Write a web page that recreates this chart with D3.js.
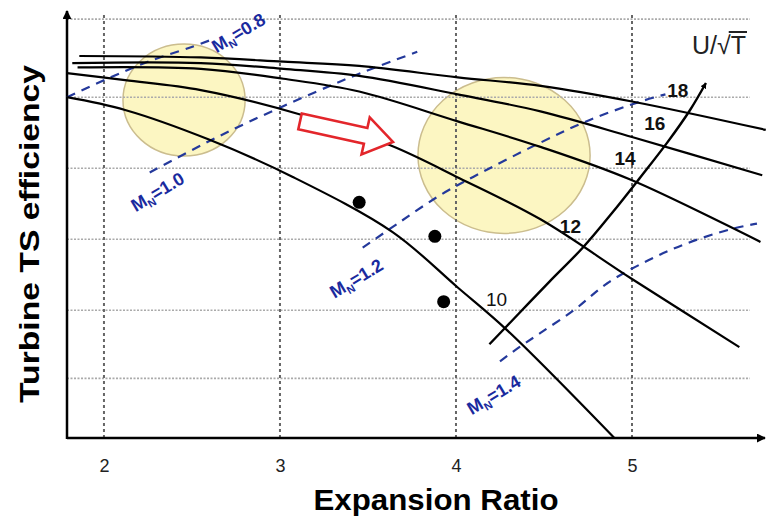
<!DOCTYPE html>
<html>
<head>
<meta charset="utf-8">
<script src="https://cdn.jsdelivr.net/npm/d3@7"></script>
<style>
  body { margin: 0; background: #fff; }
  text { font-family: "Liberation Sans", Arial, sans-serif; }
</style>
</head>
<body>
<svg id="chart" width="766" height="518"></svg>
<script>
// x ticks and horizontal grid levels (the y axis carries no labels)
const xTicks = [2, 3, 4, 5];
const gridY = [0.492, 0.54, 0.59, 0.64, 0.69, 0.745];

// U/sqrt(T) lines
const speedNames = ["10", "12", "14", "16", "18"];
const speed10 = [[1.79, 0.690], [2.12, 0.681], [2.60, 0.660], [3.07, 0.634], [3.64, 0.595], [4.01, 0.556], [4.29, 0.526], [4.90, 0.450]];
const speed12 = [[1.79, 0.707], [2.12, 0.702], [2.55, 0.695], [3.11, 0.678], [3.63, 0.656], [4.02, 0.633], [4.48, 0.604], [5.00, 0.562], [5.61, 0.514]];
const speed14 = [[1.85, 0.711], [2.55, 0.710], [3.02, 0.703], [3.45, 0.694], [4.01, 0.673], [4.48, 0.655], [4.99, 0.632], [5.73, 0.588]];
const speed16 = [[1.82, 0.714], [2.55, 0.714], [3.02, 0.710], [3.45, 0.705], [4.01, 0.692], [4.48, 0.680], [5.00, 0.662], [5.74, 0.635]];
const speed18 = [[1.86, 0.719], [2.55, 0.718], [3.02, 0.715], [3.45, 0.712], [4.01, 0.704], [4.48, 0.698], [5.00, 0.687], [5.76, 0.667]];
const speedLabelAt = [[4.23, 0.548], [4.65, 0.599], [4.96, 0.647], [5.13, 0.672], [5.26, 0.695]];

// nozzle Mach number lines
const machNames = ["0.8", "1.0", "1.2", "1.4"];
const mach08 = [[1.79, 0.690], [2.02, 0.703], [2.25, 0.715], [2.49, 0.725], [2.60, 0.730]];
const mach10 = [[2.26, 0.637], [2.55, 0.656], [2.83, 0.673], [3.19, 0.693], [3.46, 0.707], [3.78, 0.722]];
const mach12 = [[3.47, 0.584], [3.68, 0.602], [3.91, 0.621], [4.10, 0.634], [4.48, 0.658], [4.76, 0.674], [5.05, 0.687], [5.19, 0.692]];
const mach14 = [[4.25, 0.504], [4.36, 0.514], [4.48, 0.524], [4.67, 0.540], [4.86, 0.559], [5.09, 0.575], [5.31, 0.587], [5.56, 0.597], [5.71, 0.601]];
const machLabelAt = [[2.64, 0.721], [2.18, 0.609], [3.31, 0.548], [4.09, 0.466]];

// highlighted zones (cx, cy, rx, ry), points, arrows
const zones = [[2.455, 0.688, 0.347, 0.0394], [4.273, 0.649, 0.489, 0.0549]];
const points = [[3.45, 0.616], [3.88, 0.592], [3.93, 0.546]];
const speedArrow = [[4.19, 0.516], [4.36, 0.538], [4.53, 0.560], [4.72, 0.584], [4.89, 0.609], [5.05, 0.634], [5.20, 0.658], [5.33, 0.681], [5.42, 0.700]];
const shiftArrow = [[3.114, 0.673], [3.642, 0.6585]];

const svg = d3.select("#chart");

const x = d3.scaleLinear().domain([1.79, 5.75]).range([67, 764]);
const y = d3.scaleLinear().domain([0.45, 0.75]).range([438, 12]);

const line = d3.line()
    .x(d => x(d[0]))
    .y(d => y(d[1]))
    .curve(d3.curveCatmullRom.alpha(0.5));

const defs = svg.append("defs");
defs.append("marker")
    .attr("id", "head")
    .attr("viewBox", "0 0 10 10")
    .attr("refX", 9).attr("refY", 5)
    .attr("markerWidth", 6).attr("markerHeight", 6)
    .attr("markerUnits", "userSpaceOnUse")
    .attr("orient", "auto")
  .append("path")
    .attr("d", "M0,0L10,5L0,10z")
    .attr("fill", "#000");
defs.append("marker")
    .attr("id", "axhead")
    .attr("viewBox", "0 0 10 10")
    .attr("refX", 9).attr("refY", 5)
    .attr("markerWidth", 9).attr("markerHeight", 9)
    .attr("markerUnits", "userSpaceOnUse")
    .attr("orient", "auto")
  .append("path")
    .attr("d", "M0,0L10,5L0,10z")
    .attr("fill", "#000");

// yellow zones under everything
svg.append("g")
  .selectAll("ellipse")
  .data(zones)
  .enter().append("ellipse")
    .attr("cx", d => x(d[0]))
    .attr("cy", d => y(d[1]))
    .attr("rx", d => x(d[0] + d[2]) - x(d[0]))
    .attr("ry", d => y(d[1]) - y(d[1] + d[3]))
    .attr("fill", "#fcf6c2")
    .attr("stroke", "#cbbd8e")
    .attr("stroke-width", 1.5);

// grid
svg.append("g")
  .selectAll("line")
  .data(gridY)
  .enter().append("line")
    .attr("x1", x(1.79)).attr("x2", 750)
    .attr("y1", d => y(d)).attr("y2", d => y(d))
    .attr("stroke", "#aaa")
    .attr("stroke-width", 1.6)
    .attr("stroke-dasharray", "2,1.5");

svg.append("g")
  .selectAll("line")
  .data(xTicks)
  .enter().append("line")
    .attr("x1", d => x(d)).attr("x2", d => x(d))
    .attr("y1", 15).attr("y2", y(0.45))
    .attr("stroke", "#666")
    .attr("stroke-width", 2)
    .attr("stroke-dasharray", "3,3");

// axes
const xAxis = svg.append("g")
    .attr("transform", `translate(0,${y(0.45)})`)
    .call(d3.axisBottom(x).tickValues(xTicks).tickSize(0).tickPadding(21).tickFormat(d3.format("d")));
xAxis.select(".domain").remove();
xAxis.selectAll("text")
    .attr("font-size", 18)
    .attr("font-family", "Liberation Sans, Arial, sans-serif")
    .attr("fill", "#222");

svg.append("line")
    .attr("x1", x(1.79)).attr("y1", y(0.45))
    .attr("x2", 765).attr("y2", y(0.45))
    .attr("stroke", "#000").attr("stroke-width", 2.5)
    .attr("marker-end", "url(#axhead)");
svg.append("line")
    .attr("x1", x(1.79)).attr("y1", y(0.45) + 1)
    .attr("x2", x(1.79)).attr("y2", 11)
    .attr("stroke", "#000").attr("stroke-width", 2.5)
    .attr("marker-end", "url(#axhead)");

// Mach lines
const machLines = [mach08, mach10, mach12, mach14];
svg.append("g")
  .selectAll("path")
  .data(machLines)
  .enter().append("path")
    .attr("d", line)
    .attr("fill", "none")
    .attr("stroke", "#24399b")
    .attr("stroke-width", 2.2)
    .attr("stroke-dasharray", "9,7");

const machText = svg.append("g")
  .selectAll("text")
  .data(machNames)
  .enter().append("text")
    .attr("transform", (d, i) => `translate(${x(machLabelAt[i][0])},${y(machLabelAt[i][1])}) rotate(-31)`)
    .attr("fill", "#1a2a9e")
    .attr("font-size", 18)
    .attr("font-weight", "bold");
machText.append("tspan").text("M");
machText.append("tspan").attr("font-size", 11).attr("dy", 4).text("N");
machText.append("tspan").attr("dy", -4).text(d => "=" + d);

// speed lines
const speedLines = [speed10, speed12, speed14, speed16, speed18];
svg.append("g")
  .selectAll("path")
  .data(speedLines)
  .enter().append("path")
    .attr("d", line)
    .attr("fill", "none")
    .attr("stroke", "#000")
    .attr("stroke-width", 2.2);

svg.append("g")
  .selectAll("text")
  .data(speedNames)
  .enter().append("text")
    .attr("x", (d, i) => x(speedLabelAt[i][0]))
    .attr("y", (d, i) => y(speedLabelAt[i][1]))
    .attr("dy", "0.36em")
    .attr("text-anchor", "middle")
    .attr("font-size", 19)
    .attr("font-weight", (d, i) => i === 0 ? "normal" : "bold")
    .attr("fill", "#111")
    .text(d => d);

// increasing speed arrow
svg.append("path")
    .datum(speedArrow)
    .attr("d", line)
    .attr("fill", "none")
    .attr("stroke", "#000")
    .attr("stroke-width", 2.4)
    .attr("marker-end", "url(#head)");

// U/sqrt(T) label
const ut = svg.append("text")
    .attr("x", 692).attr("y", 54)
    .attr("font-size", 25)
    .attr("fill", "#222")
    .text("U/\u221AT");
const utNode = ut.node();
const tStart = utNode.getSubStringLength(0, 3);
const tWidth = utNode.getSubStringLength(3, 1);
svg.append("line")
    .attr("x1", 692 + tStart - 2).attr("x2", 692 + tStart + tWidth + 1)
    .attr("y1", 32).attr("y2", 32)
    .attr("stroke", "#222").attr("stroke-width", 2);

// data points
svg.append("g")
  .selectAll("circle")
  .data(points)
  .enter().append("circle")
    .attr("cx", d => x(d[0]))
    .attr("cy", d => y(d[1]))
    .attr("r", 6.5)
    .attr("fill", "#000");

// hollow red arrow
const ax0 = x(shiftArrow[0][0]), ay0 = y(shiftArrow[0][1]);
const ax1 = x(shiftArrow[1][0]), ay1 = y(shiftArrow[1][1]);
const len = Math.hypot(ax1 - ax0, ay1 - ay0);
const ang = Math.atan2(ay1 - ay0, ax1 - ax0) * 180 / Math.PI;
const hl = 28, sw = 8, hw = 19;
svg.append("polygon")
    .attr("points", [[0, -sw], [len - hl, -sw], [len - hl, -hw], [len, 0], [len - hl, hw], [len - hl, sw], [0, sw]].join(" "))
    .attr("transform", `translate(${ax0},${ay0}) rotate(${ang})`)
    .attr("fill", "#fff")
    .attr("stroke", "#e3262b")
    .attr("stroke-width", 2.6)
    .attr("stroke-linejoin", "miter");

// axis titles
svg.append("text")
    .attr("x", 436).attr("y", 510)
    .attr("text-anchor", "middle")
    .attr("font-size", 29)
    .attr("font-weight", "bold")
    .attr("textLength", 245)
    .attr("lengthAdjust", "spacingAndGlyphs")
    .text("Expansion Ratio");

svg.append("text")
    .attr("transform", "translate(39,234) rotate(-90)")
    .attr("text-anchor", "middle")
    .attr("font-size", 28)
    .attr("font-weight", "bold")
    .attr("textLength", 338)
    .attr("lengthAdjust", "spacingAndGlyphs")
    .text("Turbine TS efficiency");
</script>
</body>
</html>
